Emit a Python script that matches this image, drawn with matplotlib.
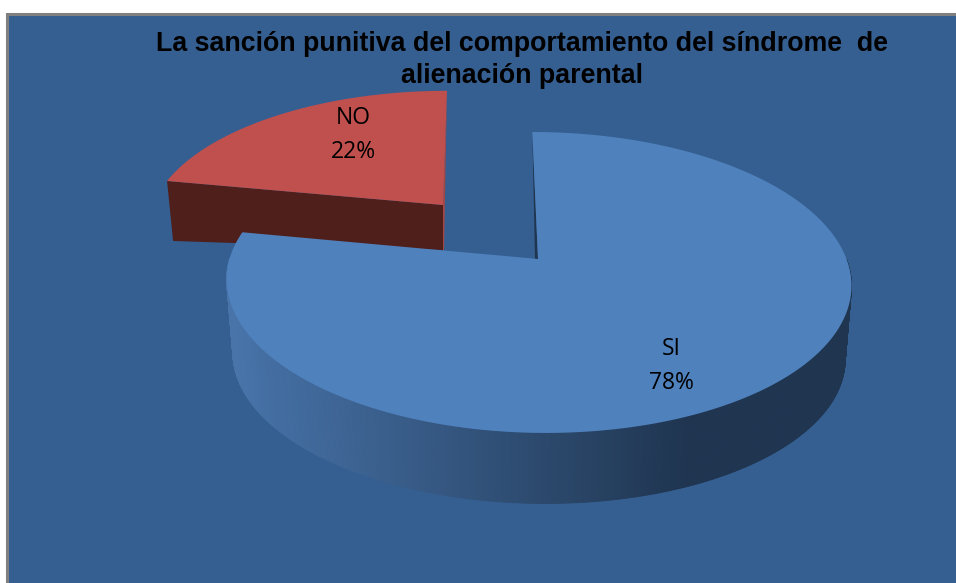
import numpy as np
import matplotlib
matplotlib.use('Agg')
from matplotlib import pyplot as plt
from matplotlib.colors import to_rgb
from matplotlib.patches import Polygon, Rectangle

# Data
labels = ['SI', 'NO']
shares = [78, 22]
title = 'La sanción punitiva del comportamiento del síndrome  de\nalienación parental'

BG = '#355F91'
BLUE = '#4F81BD'
RED = '#C0504D'
DARK_RED = '#4F1F1C'
EDGE_RED = '#A64643'
SIDE_LIGHT = '#4874AA'
SIDE_DARK = '#1F3550'


def project(angle, cx, cy, a, b, k=0.156, shear=0.04):
    # Perspective view of a point on the pie rim, angle clockwise from the top in degrees
    t = np.radians(angle)
    u, v = np.sin(t), -np.cos(t)
    y = a * v / (1 - k * v)
    x = b * u / (1 - k * v) + shear * y
    return cx + x, cy + y


fig = plt.figure(figsize=(9.56, 5.83), dpi=100)
ax = fig.add_axes([0, 0, 1, 1])
ax.set_xlim(0, 956)
ax.set_ylim(583, 0)
ax.axis('off')

ax.add_patch(Rectangle((7, 13.5), 960, 580, facecolor=BG, edgecolor='#808080', linewidth=2.2))

blue_start, blue_end = 0, 360 * shares[0] / sum(shares)
red_start, red_end = blue_end, 360

# Red slice, it sits behind the blue one
rcx, rcy = 443, 205
rdepth = 45
ra = np.linspace(red_start, red_end, 80)
rx, ry = project(ra, rcx, rcy, 132, 290, shear=-0.035)
ax.add_patch(Polygon([(rx[0], ry[0]), (rcx, rcy), (rcx, rcy + rdepth), (rx[0] + 6, ry[0] + 60)],
                     closed=True, facecolor=DARK_RED, edgecolor='none'))
ax.add_patch(Polygon([(rx[-1], ry[-1]), (rx[-1] - 3, rcy + rdepth), (rcx, rcy + rdepth), (rcx, rcy)],
                     closed=True, facecolor=EDGE_RED, edgecolor='none'))
ax.add_patch(Polygon(np.column_stack([np.r_[rx, rcx], np.r_[ry, rcy]]),
                     closed=True, facecolor=RED, edgecolor='none'))

# Blue slice: outer wall in strips so it can fade from left to right
bcx, bcy = 538, 259
ba = np.linspace(blue_start, blue_end, 721)
tx, ty = project(ba, bcx, bcy, 146.8, 308.5, shear=0.045)
lx, ly = project(ba, bcx, bcy + 74, 146.8 * 0.98, 308.5 * 0.98, shear=0.045)
c0, c1 = np.array(to_rgb(SIDE_LIGHT)), np.array(to_rgb(SIDE_DARK))
for i in range(len(ba) - 1):
    # only the front half of the rim shows a wall
    if ty[i] < 283 and (ba[i] < 90 or ba[i] > 270):
        continue
    f = np.clip((tx[i] - 232) / (690 - 232), 0, 1)
    col = c0 + (c1 - c0) * f
    ax.add_patch(Polygon([(tx[i], ty[i]), (tx[i + 1], ty[i + 1]), (lx[i + 1], ly[i + 1]), (lx[i], ly[i])],
                         closed=True, facecolor=col, edgecolor=col, linewidth=0.6))
ax.add_patch(Polygon([(tx[0], ty[0]), (bcx, bcy), (bcx - 3, bcy)], closed=True,
                     facecolor=SIDE_DARK, edgecolor='none'))
ax.add_patch(Polygon(np.column_stack([np.r_[tx, bcx], np.r_[ty, bcy]]),
                     closed=True, facecolor=BLUE, edgecolor='none'))

# Text
ax.text(522, 60, title, ha='center', va='center', fontsize=19.3, fontweight='bold',
        family='Liberation Sans', color='black', linespacing=1.285)
ax.text(671, 366, f'{labels[0]}\n{shares[0]}%', ha='center', va='center', fontsize=16.5,
        family='Open Sans', color='black', linespacing=1.6)
ax.text(353, 135, f'{labels[1]}\n{shares[1]}%', ha='center', va='center', fontsize=16.5,
        family='Open Sans', color='black', linespacing=1.5)

fig.savefig('out.png', dpi=100, facecolor='white')
